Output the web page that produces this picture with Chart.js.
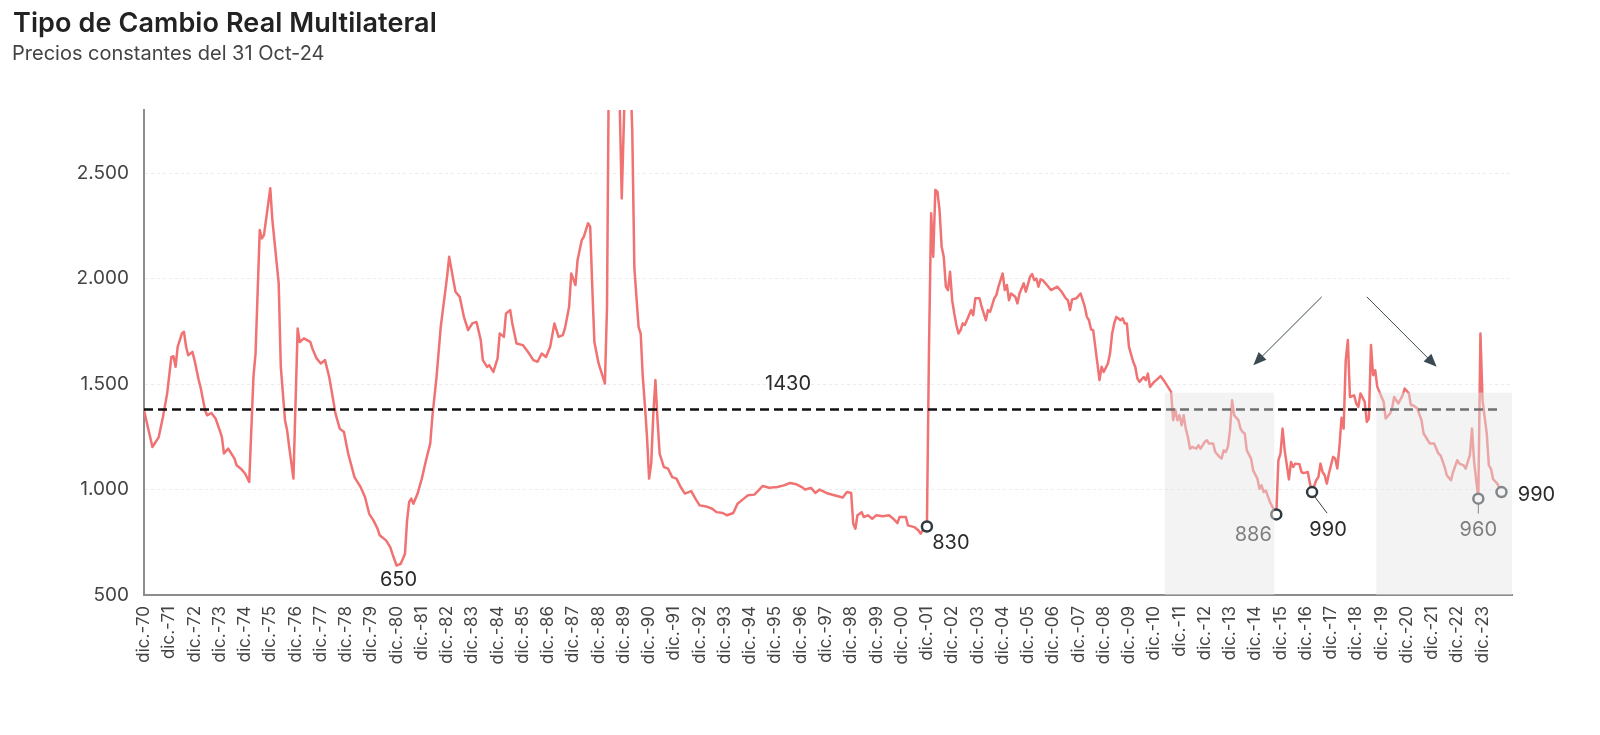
<!DOCTYPE html>
<html lang="es">
<head>
<meta charset="utf-8">
<title>Tipo de Cambio Real Multilateral</title>
<script src="https://cdn.jsdelivr.net/npm/chart.js@4.4.1/dist/chart.umd.min.js"></script>
<style>
  body { margin: 0; background: #fff; font-family: Inter, 'DejaVu Sans', sans-serif; }
  #lienzo { position: relative; width: 1600px; height: 735px; }
  #titulo { position: absolute; left: 13px; top: 6px; font-size: 27px; font-weight: 600; letter-spacing: 0.1px; color: #222; }
  #subtitulo { position: absolute; left: 12px; top: 41px; font-size: 20px; color: #444; }
  canvas { position: absolute; left: 0; top: 0; }
</style>
</head>
<body>
<div id="lienzo">
  <canvas id="grafico" width="1600" height="735"></canvas>
  <div id="titulo">Tipo de Cambio Real Multilateral</div>
  <div id="subtitulo">Precios constantes del 31 Oct-24</div>
</div>
<script>
// meses contados desde dic-70 (0 = dic-70, 12 = dic-71, ...)
const meses = [
  0, 4, 7, 9, 11, 13, 14, 15, 16, 18, 19, 20, 21, 23,
  24, 26, 27, 29, 30, 32, 34, 36, 37, 38, 40, 41, 43, 44, 46,
  48, 50, 52, 53, 55, 56, 57, 60, 61, 64, 65, 67, 68, 69, 71,
  73, 74, 76, 79, 80, 82, 84, 86, 88, 91, 93, 95,
  97, 100, 103, 105, 107, 109, 111, 112, 115, 117, 118,
  120, 122, 124, 125, 126, 127, 128, 130, 132, 134, 136, 137, 139, 141, 142,
  144, 145, 147, 148, 150, 152, 154, 156, 158, 160, 161, 163, 164, 166,
  168, 169, 171, 172, 174, 175, 177, 180, 183, 185, 187, 189, 191,
  193, 195, 197, 199, 200, 202, 203, 205, 206, 208, 209, 211, 212, 213, 214,
  216, 217, 219, 220, 221, 225, 227, 229, 231, 232, 233, 235, 236, 237, 238, 239,
  240, 241, 242, 243, 244, 245, 247, 249, 251, 253, 255, 257, 260, 262, 264, 267, 270, 272, 275, 277,
  280, 282, 285, 287, 290, 292, 294, 297, 301, 304, 307, 310, 313, 314, 317, 319,
  321, 325, 328, 332, 334, 336, 337, 338, 339, 341, 342, 344, 346, 348, 351, 354, 356, 358, 359,
  362, 363, 366, 368, 369, 370, 372,
  373, 374, 375, 376, 377, 378, 379, 380, 381, 382, 383, 384, 385, 386, 387, 388, 389, 390, 392, 393, 394, 395,
  397, 398, 400, 401, 402, 404, 405, 406, 408, 409, 410, 411, 412, 414, 415, 416, 418, 419,
  421, 422, 423, 424, 425, 426, 427, 429, 431, 434, 436, 438, 439, 440, 441, 443,
  445, 447, 448, 449, 450, 451, 452, 453, 454, 455, 456, 458, 459, 460, 461, 462, 464, 465, 466, 467,
  468, 470, 471, 472, 473, 475, 476, 477, 478, 480, 481, 483, 485, 486, 488, 489, 490, 491,
  492, 493, 494, 495, 496, 497, 498, 500, 501, 502, 504, 505, 506, 508, 509, 511, 512, 513, 514, 515,
  516, 517, 518, 520, 521, 522, 523, 524, 526, 527, 529, 530, 531, 532, 533, 535, 538,
  539, 540, 541, 542, 544, 545, 546, 547, 549, 550, 551, 553, 554, 555, 557, 558, 559, 560, 561, 562,
  563, 565, 566, 567, 568, 569, 570, 571, 572, 573, 575, 576, 577, 578, 580, 581, 582, 583, 584, 585, 586,
  588, 589, 590, 592, 593, 594, 596, 598, 599, 601, 602, 603, 605, 607, 608, 610, 611, 613,
  615, 616, 618, 619, 621, 622, 624, 625, 627, 628, 630, 631, 632, 634, 635, 636, 638, 639, 640, 641, 643, 645
];

// TCRM a precios constantes del 31 Oct-24
const tcrm = [
  1376, 1202, 1249, 1344, 1455, 1629, 1632, 1582, 1677, 1740, 1748, 1677, 1637, 1653,
  1614, 1519, 1479, 1376, 1352, 1363, 1337, 1281, 1249, 1171, 1194, 1178, 1147, 1115, 1099,
  1076, 1036, 1534, 1645, 2231, 2191, 2207, 2429, 2278, 1978, 1582, 1329, 1281, 1202, 1052,
  1764, 1700, 1717, 1700, 1669, 1622, 1598, 1614, 1534, 1360, 1289, 1273,
  1171, 1059, 1010, 965, 885, 854, 814, 783, 759, 727, 696,
  640, 648, 696, 854, 941, 957, 933, 981, 1052, 1139, 1218, 1344, 1534, 1772, 1851,
  2009, 2104, 1993, 1938, 1914, 1819, 1756, 1788, 1795, 1709, 1614, 1582, 1590, 1558,
  1622, 1740, 1724, 1835, 1851, 1788, 1693, 1685, 1645, 1614, 1606, 1645, 1629,
  1677, 1788, 1724, 1732, 1764, 1867, 2025, 1970, 2088, 2183, 2199, 2263, 2247, 1960, 1700,
  1598, 1566, 1503, 1867, 3200, 3300, 2381, 3100, 3000, 2700, 2050, 1772, 1740, 1534, 1400, 1250,
  1052, 1123, 1360, 1519, 1329, 1171, 1107, 1099, 1059, 1052, 1012, 981, 993, 957, 925, 920, 909, 893, 889, 878,
  889, 933, 957, 973, 976, 996, 1017, 1009, 1012, 1020, 1031, 1025, 1009, 1000, 1007, 984,
  1000, 981, 973, 962, 988, 984, 838, 814, 878, 893, 870, 878, 862, 878, 873, 878, 862, 841, 870,
  870, 830, 822, 806, 791, 806, 825,
  1680, 2310, 2104, 2421, 2413, 2326, 2152, 2104, 1962, 1946, 2033, 1898, 1835, 1780, 1740, 1756, 1788, 1780, 1827, 1851, 1827, 1907,
  1907, 1867, 1803, 1851, 1843, 1907, 1922, 1962, 2025, 1946, 1970, 1898, 1930, 1914, 1883, 1930, 1978, 1938,
  2009, 2022, 1993, 2001, 1962, 1997, 1993, 1970, 1946, 1962, 1938, 1907, 1898, 1851, 1902, 1907,
  1930, 1867, 1819, 1803, 1759, 1756, 1677, 1598, 1519, 1582, 1558, 1598, 1645, 1740, 1788, 1819, 1803, 1812, 1788, 1788,
  1677, 1606, 1582, 1527, 1511, 1534, 1519, 1550, 1487, 1511, 1519, 1538, 1511, 1495, 1463, 1329, 1380, 1329,
  1352, 1305, 1352, 1289, 1249, 1194, 1202, 1194, 1210, 1194, 1226, 1234, 1218, 1218, 1178, 1155, 1147, 1186, 1178, 1202,
  1281, 1424, 1352, 1329, 1289, 1273, 1266, 1186, 1147, 1091, 1052, 1004, 1020, 988, 996, 941, 882,
  1139, 1171, 1289, 1186, 1048, 1131, 1107, 1123, 1120, 1083, 1078, 1083, 1028, 988, 1044, 1059, 1123, 1083, 1068, 1028,
  1076, 1155, 1147, 1100, 1202, 1340, 1289, 1614, 1709, 1439, 1447, 1408, 1392, 1456, 1416, 1321, 1337, 1685, 1542, 1566, 1487,
  1439, 1416, 1337, 1360, 1384, 1439, 1408, 1447, 1479, 1456, 1400, 1400, 1384, 1329, 1266, 1234, 1218, 1218,
  1171, 1163, 1107, 1068, 1044, 1083, 1139, 1123, 1115, 1099, 1163, 1289, 1131, 957, 1740, 1424, 1266, 1115, 1099, 1050, 1028, 988
];

const etiquetasX = [
  'dic.-70', 'dic.-71', 'dic.-72', 'dic.-73', 'dic.-74', 'dic.-75', 'dic.-76', 'dic.-77', 'dic.-78', 'dic.-79',
  'dic.-80', 'dic.-81', 'dic.-82', 'dic.-83', 'dic.-84', 'dic.-85', 'dic.-86', 'dic.-87', 'dic.-88', 'dic.-89',
  'dic.-90', 'dic.-91', 'dic.-92', 'dic.-93', 'dic.-94', 'dic.-95', 'dic.-96', 'dic.-97', 'dic.-98', 'dic.-99',
  'dic.-00', 'dic.-01', 'dic.-02', 'dic.-03', 'dic.-04', 'dic.-05', 'dic.-06', 'dic.-07', 'dic.-08', 'dic.-09',
  'dic.-10', 'dic.-11', 'dic.-12', 'dic.-13', 'dic.-14', 'dic.-15', 'dic.-16', 'dic.-17', 'dic.-18', 'dic.-19',
  'dic.-20', 'dic.-21', 'dic.-22', 'dic.-23'
];
const ticksY = [500, 1000, 1500, 2000, 2500];

// linea de referencia y su rotulo
const lineaPromedio = 1380;
const finPromedio = 645;
const etiquetaPromedio = '1430';

// puntos marcados (mes) y sus rotulos
const puntosMes = [372, 538, 555, 634, 645];
const puntosTexto = ['830', '886', '990', '960', '990'];
const minimoMes = 120;
const minimoTexto = '650';

// periodos sombreados (mes inicio, mes fin) y flechas
const sombras = [[485, 537], [585.5, 650]];
const techoSombra = 1460;
const flechas = [[559.6, 1914, 527.1, 1590], [581, 1914, 614.2, 1582]];

if (meses.length !== tcrm.length) console.warn('largo distinto', meses.length, tcrm.length);

const serie = meses.map((m, i) => ({ x: m, y: tcrm[i] }));
const valorEn = m => tcrm[meses.indexOf(m)];
const puntos = puntosMes.map(m => ({ x: m, y: valorEn(m) }));

function formatoMiles(v) {
  if (v < 1000) return String(v);
  return Math.floor(v / 1000) + '.' + String(v % 1000).padStart(3, '0');
}

// desplazamientos de los rotulos respecto de cada punto (px)
const rotulos = [
  { dx: 24, dy: 17 },
  { dx: -23, dy: 21 },
  { dx: 16, dy: 38, guia: [3, 5, 15, 21] },
  { dx: 0, dy: 31, guia: [0, 6, 0, 15] },
  { dx: 35, dy: 3 }
];

const anotaciones = {
  id: 'anotaciones',
  afterDatasetsDraw(chart) {
    const { ctx, scales: { x, y } } = chart;
    ctx.save();
    ctx.font = '20px Inter';
    ctx.textAlign = 'center';
    ctx.textBaseline = 'middle';
    ctx.fillStyle = '#2b2b2b';

    // rotulo de la linea de referencia
    ctx.fillText(etiquetaPromedio, x.getPixelForValue(306), y.getPixelForValue(lineaPromedio) - 25);

    // minimo de 1980
    ctx.fillText(minimoTexto, x.getPixelForValue(minimoMes) + 2, y.getPixelForValue(valorEn(minimoMes)) + 15);

    puntosMes.forEach((m, i) => {
      const px = x.getPixelForValue(m);
      const py = y.getPixelForValue(valorEn(m));
      const r = rotulos[i];
      if (r.guia) {
        ctx.strokeStyle = '#3a3a3a';
        ctx.lineWidth = 1;
        ctx.beginPath();
        ctx.moveTo(px + r.guia[0], py + r.guia[1]);
        ctx.lineTo(px + r.guia[2], py + r.guia[3]);
        ctx.stroke();
      }
      ctx.fillStyle = '#2b2b2b';
      ctx.fillText(puntosTexto[i], px + r.dx, py + r.dy);
    });

    // sombreado encima de la serie
    ctx.fillStyle = 'rgba(228,228,228,0.45)';
    sombras.forEach(([a, b]) => {
      const x0 = x.getPixelForValue(a);
      const x1 = x.getPixelForValue(b);
      const y0 = y.getPixelForValue(techoSombra);
      const y1 = y.getPixelForValue(500);
      ctx.fillRect(x0, y0, x1 - x0, y1 - y0);
    });

    // flechas
    ctx.strokeStyle = '#3b4a52';
    ctx.fillStyle = '#3b4a52';
    ctx.lineWidth = 1;
    flechas.forEach(([m0, v0, m1, v1]) => {
      const ax = x.getPixelForValue(m0), ay = y.getPixelForValue(v0);
      const bx = x.getPixelForValue(m1), by = y.getPixelForValue(v1);
      const ang = Math.atan2(by - ay, bx - ax);
      ctx.beginPath();
      ctx.moveTo(ax, ay);
      ctx.lineTo(bx - Math.cos(ang) * 8, by - Math.sin(ang) * 8);
      ctx.stroke();
      ctx.beginPath();
      ctx.moveTo(bx, by);
      ctx.lineTo(bx - Math.cos(ang) * 13 + Math.sin(ang) * 5.5, by - Math.sin(ang) * 13 - Math.cos(ang) * 5.5);
      ctx.lineTo(bx - Math.cos(ang) * 13 - Math.sin(ang) * 5.5, by - Math.sin(ang) * 13 + Math.cos(ang) * 5.5);
      ctx.closePath();
      ctx.fill();
    });
    ctx.restore();
  }
};

Chart.defaults.font.family = "Inter, 'DejaVu Sans', sans-serif";

new Chart(document.getElementById('grafico'), {
  type: 'line',
  data: {
    datasets: [
      {
        label: 'Marcas',
        data: puntos,
        showLine: false,
        pointRadius: 5,
        pointBorderWidth: 2.5,
        pointBorderColor: '#2e3a40',
        pointBackgroundColor: '#ffffff'
      },
      {
        label: 'Referencia',
        data: [{ x: 0, y: lineaPromedio }, { x: finPromedio, y: lineaPromedio }],
        borderColor: '#111111',
        borderWidth: 2.5,
        borderDash: [9, 5],
        pointRadius: 0
      },
      {
        label: 'TCRM',
        data: serie,
        borderColor: '#f07272',
        borderWidth: 2.5,
        borderJoinStyle: 'round',
        pointRadius: 0,
        tension: 0
      }
    ]
  },
  options: {
    responsive: false,
    animation: false,
    devicePixelRatio: 1,
    layout: { padding: { top: 110, right: 88, bottom: 0, left: 0 } },
    plugins: { legend: { display: false }, tooltip: { enabled: false } },
    scales: {
      x: {
        type: 'linear',
        min: 0,
        max: 650,
        afterBuildTicks: s => { s.ticks = etiquetasX.map((_, i) => ({ value: i * 12 })); },
        afterFit: s => { s.height = 140; },
        grid: { drawOnChartArea: false, drawTicks: false },
        border: { color: '#8c8c8c', width: 2 },
        ticks: {
          autoSkip: false,
          minRotation: 90,
          maxRotation: 90,
          padding: 11,
          color: '#444',
          font: { size: 17 },
          callback: v => etiquetasX[Math.round(v / 12)]
        }
      },
      y: {
        min: 500,
        max: 2800,
        afterBuildTicks: s => { s.ticks = ticksY.map(v => ({ value: v })); },
        afterFit: s => { s.width = 144; },
        grid: { drawTicks: false, color: '#ececec', lineWidth: 1 },
        border: { color: '#8c8c8c', width: 2, dash: [3, 3] },
        ticks: { padding: 15, color: '#444', font: { size: 19 }, callback: v => formatoMiles(v) }
      }
    }
  },
  plugins: [anotaciones]
});
</script>
</body>
</html>
